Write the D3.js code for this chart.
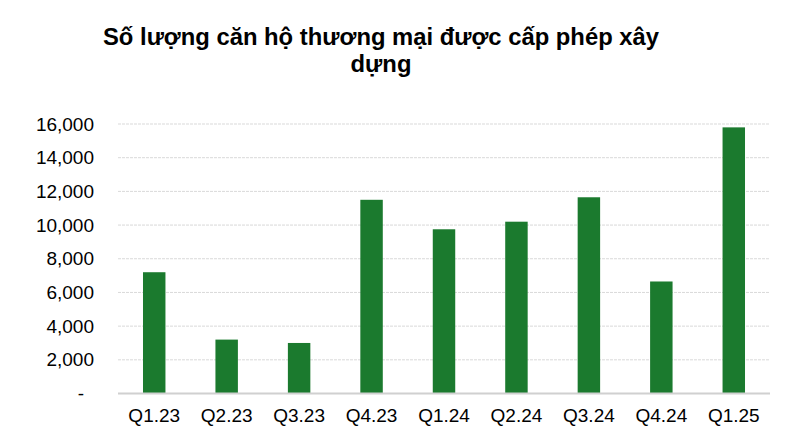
<!DOCTYPE html>
<html>
<head>
<meta charset="utf-8">
<script src="https://cdn.jsdelivr.net/npm/d3@7"></script>
<style>
  html, body { margin: 0; padding: 0; background: #ffffff; }
  svg { display: block; font-family: "Liberation Sans", Arial, sans-serif; }
</style>
</head>
<body>
<svg id="chart" width="808" height="434"></svg>
<script>
const titleLines = ["Số lượng căn hộ thương mại được cấp phép xây", "dựng"];
const categories = ["Q1.23", "Q2.23", "Q3.23", "Q4.23", "Q1.24", "Q2.24", "Q3.24", "Q4.24", "Q1.25"];
const values = [7200, 3200, 3000, 11500, 9750, 10200, 11650, 6650, 15800];
const yTicks = [0, 2000, 4000, 6000, 8000, 10000, 12000, 14000, 16000];

const svg = d3.select("#chart");
const mLeft = 118, mRight = 770, mTop = 124, mBottom = 393.5;

const x = d3.scaleBand().domain(categories).range([mLeft, mRight]).paddingInner(0.69).paddingOuter(0.345);
const y = d3.scaleLinear().domain([0, 16000]).range([mBottom, mTop]);

// title
svg.append("g").selectAll("text").data(titleLines).join("text")
  .attr("x", 381).attr("y", (d, i) => 44.5 + i * 27.4)
  .attr("text-anchor", "middle")
  .attr("font-size", 23.8).attr("font-weight", "bold").attr("fill", "#000")
  .text(d => d);

// gridlines
svg.append("g").selectAll("line").data(yTicks.filter(d => d > 0)).join("line")
  .attr("x1", mLeft).attr("x2", mRight)
  .attr("y1", d => y(d)).attr("y2", d => y(d))
  .attr("stroke", "#d9d9d9").attr("stroke-width", 1).attr("stroke-dasharray", "3,1");

// y axis labels
const yAxis = d3.axisLeft(y).tickValues(yTicks).tickSize(0).tickPadding(0)
  .tickFormat(d => d === 0 ? "-" : d3.format(",")(d));
const ya = svg.append("g").attr("transform", `translate(94,0)`).call(yAxis);
ya.select(".domain").remove();
ya.selectAll("text").attr("font-size", 19).attr("fill", "#000").attr("font-family", "Liberation Sans, Arial, sans-serif")
  .attr("dx", d => d === 0 ? -10 : 0);

// bars
svg.append("g").selectAll("rect").data(categories).join("rect")
  .attr("x", d => x(d)).attr("width", x.bandwidth())
  .attr("y", (d, i) => y(values[i])).attr("height", (d, i) => y(0) - y(values[i]))
  .attr("fill", "#1b7a2e");

// baseline
svg.append("line").attr("x1", mLeft).attr("x2", mRight).attr("y1", y(0)).attr("y2", y(0))
  .attr("stroke", "#d0d0d0").attr("stroke-width", 2);

// x axis labels
const xAxis = d3.axisBottom(x).tickSize(0).tickPadding(0);
const xa = svg.append("g").attr("transform", `translate(0,${mBottom})`).call(xAxis);
xa.select(".domain").remove();
xa.selectAll("text").attr("font-size", 19).attr("fill", "#000").attr("font-family", "Liberation Sans, Arial, sans-serif")
  .attr("dy", 0).attr("y", 28.5);
</script>
</body>
</html>
